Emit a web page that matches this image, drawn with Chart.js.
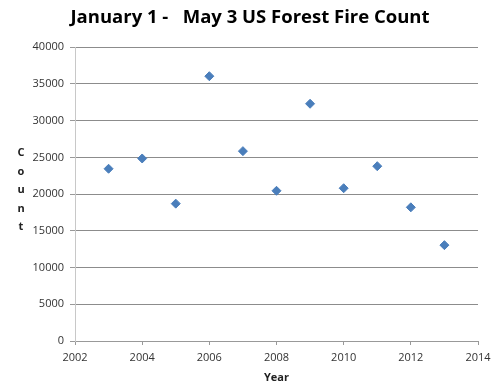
<!DOCTYPE html>
<html>
<head>
<meta charset="utf-8">
<script src="https://cdn.jsdelivr.net/npm/chart.js@4/dist/chart.umd.min.js"></script>
<style>
    html, body { margin: 0; padding: 0; background: #fff; }
    #wrap { width: 500px; height: 392px; }
</style>
</head>
<body>
<div id="wrap"><canvas id="fire-chart"></canvas></div>
<script>
const years = [2003, 2004, 2005, 2006, 2007, 2008, 2009, 2010, 2011, 2012, 2013];
const fireCounts = [23450, 24850, 18700, 36050, 25850, 20450, 32300, 20800, 23800, 18200, 13050];
const xTicks = [2002, 2004, 2006, 2008, 2010, 2012, 2014];
const yTicks = [0, 5000, 10000, 15000, 20000, 25000, 30000, 35000, 40000];
const chartTitle = "January 1 -   May 3 US Forest Fire Count";
const xTitle = "Year";
const yTitle = "Count";

const font = "'Open Sans', sans-serif";

// stacked vertical axis title, one letter per line
const stackedLabel = {
    id: "stackedLabel",
    afterDraw(chart) {
        const ctx = chart.ctx;
        const mid = (chart.chartArea.top + chart.chartArea.bottom) / 2 - 4;
        const step = 18.5;
        const letters = yTitle.split("");
        ctx.save();
        ctx.font = "bold 11px " + font;
        ctx.fillStyle = "#222";
        ctx.textAlign = "center";
        ctx.textBaseline = "middle";
        letters.forEach((ch, i) => {
            ctx.fillText(ch, 21, mid + (i - (letters.length - 1) / 2) * step);
        });
        ctx.restore();
    }
};

let ctx = document.getElementById("fire-chart").getContext("2d");
let chart = new Chart(ctx, {
    type: "scatter",
    data: {
        datasets: [
            {
                label: "Count",
                data: years.map((y, i) => ({x: y, y: fireCounts[i]})),
                pointStyle: "rectRot",
                pointRadius: 4.5,
                backgroundColor: "#4a7ebb",
                borderColor: "#4a7ebb",
                borderWidth: 1,
            }
        ],
    },
    options: {
        responsive: true,
        maintainAspectRatio: false,
        animation: false,
        layout: {
            padding: {left: 22, right: 22, top: 0, bottom: 8},
        },
        plugins: {
            legend: {display: false},
            tooltip: {enabled: false},
            title: {
                display: true,
                text: chartTitle,
                color: "#000",
                font: {family: font, size: 18.5, weight: "bold"},
                padding: {top: 7, bottom: 18},
            },
        },
        scales: {
            x: {
                type: "linear",
                min: 2002,
                max: 2014,
                afterBuildTicks: (scale) => { scale.ticks = xTicks.map(v => ({value: v})); },
                afterFit: (scale) => { scale.height = 43; },
                ticks: {
                    callback: (v) => String(v),
                    color: "#333",
                    font: {family: font, size: 11},
                    padding: 6,
                },
                grid: {
                    color: "rgba(0,0,0,0)",
                    tickColor: "#999",
                    tickLength: 4,
                },
                border: {color: "#999", width: 1},
                title: {
                    display: true,
                    text: xTitle,
                    color: "#222",
                    font: {family: font, size: 11, weight: "bold"},
                    padding: {top: 0, bottom: 0},
                },
            },
            y: {
                min: 0,
                max: 40000,
                afterBuildTicks: (scale) => { scale.ticks = yTicks.map(v => ({value: v})); },
                afterFit: (scale) => { scale.width = 53; },
                ticks: {
                    callback: (v) => String(v),
                    color: "#333",
                    font: {family: font, size: 11},
                    padding: 6,
                },
                grid: {
                    color: "#8c8c8c",
                    tickColor: "#999",
                    tickLength: 5,
                },
                border: {color: "#c8c8c8", width: 1},
            },
        },
    },
    plugins: [stackedLabel],
});
</script>
</body>
</html>
